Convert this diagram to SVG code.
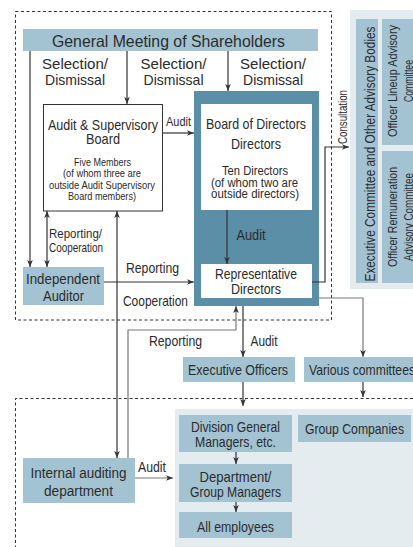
<svg xmlns="http://www.w3.org/2000/svg" width="413" height="547" viewBox="0 0 413 547">
  <style>
    text { font-family: "Liberation Sans", Arial, sans-serif; fill: #2b2b2b; }
    .blue { fill: #a3c3d2; }
    .panel { fill: #e4ecf0; }
    .teal { fill: #5b8fa8; }
    .white { fill: #ffffff; }
    .ln { fill: none; stroke: #333333; stroke-width: 1.2; }
    .gray { stroke: #777777; }
    .dash { fill: none; stroke: #333333; stroke-width: 1; stroke-dasharray: 3 2.5; }
  </style>
  <defs>
    <marker id="ah" viewBox="0 0 10 10" refX="10" refY="5" markerWidth="7" markerHeight="7" markerUnits="userSpaceOnUse" orient="auto-start-reverse">
      <path d="M0,1 L10,5 L0,9 L2.5,5 z" fill="#333333"/>
    </marker>
  </defs>

  <rect width="413" height="547" fill="#ffffff"/>

  <!-- governance frames -->
  <rect class="dash" x="15.5" y="11.5" width="316" height="308.5"/>
  <path class="dash" d="M413,398.5 H15.5 V547"/>

  <!-- advisory panel -->
  <g id="advisory-panel">
    <rect class="panel" x="350" y="10" width="63" height="279"/>
  </g>
  <g id="executive-committee">
    <rect class="blue" x="356" y="19" width="22" height="264"/>
    <text font-size="14" text-anchor="middle" textLength="255" lengthAdjust="spacingAndGlyphs" transform="translate(374.5,154) rotate(-90)">Executive Committee and Other Advisory Bodies</text>
  </g>
  <g id="officer-lineup">
    <rect class="blue" x="382" y="19" width="31" height="126"/>
    <text font-size="13" text-anchor="middle" textLength="112" lengthAdjust="spacingAndGlyphs" transform="translate(397,81) rotate(-90)">Officer Lineup Advisory</text>
    <text font-size="13" text-anchor="middle" textLength="42" lengthAdjust="spacingAndGlyphs" transform="translate(413,81) rotate(-90)">Committee</text>
  </g>
  <g id="officer-remuneration">
    <rect class="blue" x="382" y="151" width="31" height="132"/>
    <text font-size="13" text-anchor="middle" textLength="100" lengthAdjust="spacingAndGlyphs" transform="translate(397,217) rotate(-90)">Officer Remuneration</text>
    <text font-size="13" text-anchor="middle" textLength="88" lengthAdjust="spacingAndGlyphs" transform="translate(413,217) rotate(-90)">Advisory Committee</text>
  </g>

  <!-- bottom organisation panel -->
  <g id="organisation-panel">
    <rect class="panel" x="175" y="409" width="238" height="138"/>
  </g>

  <g id="general-meeting">
    <rect class="blue" x="23" y="29" width="295" height="22"/>
    <text font-size="16.5" x="168.5" y="46.5" text-anchor="middle" textLength="233" lengthAdjust="spacingAndGlyphs">General Meeting of Shareholders</text>
  </g>

  <g id="audit-board">
    <rect x="43.5" y="104.5" width="119" height="106.5" fill="#ffffff" stroke="#333333" stroke-width="1"/>
    <text font-size="15" x="103" y="130" text-anchor="middle" textLength="110" lengthAdjust="spacingAndGlyphs">Audit &amp; Supervisory</text>
    <text font-size="15" x="103" y="143.5" text-anchor="middle" textLength="34" lengthAdjust="spacingAndGlyphs">Board</text>
    <text font-size="11.5" x="102.5" y="165.5" text-anchor="middle" textLength="57" lengthAdjust="spacingAndGlyphs">Five Members</text>
    <text font-size="11.5" x="102" y="177" text-anchor="middle" textLength="78" lengthAdjust="spacingAndGlyphs">(of whom three are</text>
    <text font-size="11.5" x="102" y="189" text-anchor="middle" textLength="106" lengthAdjust="spacingAndGlyphs">outside Audit Supervisory</text>
    <text font-size="11.5" x="102" y="200" text-anchor="middle" textLength="68" lengthAdjust="spacingAndGlyphs">Board members)</text>
  </g>

  <g id="board-of-directors">
    <rect class="teal" x="194" y="91" width="125" height="215"/>
    <rect class="white" x="201" y="104" width="111" height="106"/>
    <text font-size="14.5" x="256" y="128.5" text-anchor="middle" textLength="100" lengthAdjust="spacingAndGlyphs">Board of Directors</text>
    <text font-size="14.5" x="256" y="148.5" text-anchor="middle" textLength="50" lengthAdjust="spacingAndGlyphs">Directors</text>
    <text font-size="12" x="255" y="175" text-anchor="middle" textLength="66" lengthAdjust="spacingAndGlyphs">Ten Directors</text>
    <text font-size="12" x="254.5" y="186.5" text-anchor="middle" textLength="87" lengthAdjust="spacingAndGlyphs">(of whom two are</text>
    <text font-size="12" x="255" y="197.5" text-anchor="middle" textLength="88" lengthAdjust="spacingAndGlyphs">outside directors)</text>
  </g>

  <g id="representative-directors">
    <rect class="white" x="201" y="264" width="111" height="34"/>
    <text font-size="14.5" x="256" y="278.5" text-anchor="middle" textLength="82" lengthAdjust="spacingAndGlyphs">Representative</text>
    <text font-size="14.5" x="256" y="293.5" text-anchor="middle" textLength="50" lengthAdjust="spacingAndGlyphs">Directors</text>
  </g>

  <g id="independent-auditor">
    <rect class="blue" x="23" y="267" width="81" height="38"/>
    <text font-size="15" x="63" y="283.5" text-anchor="middle" textLength="74" lengthAdjust="spacingAndGlyphs">Independent</text>
    <text font-size="15" x="63.5" y="300.5" text-anchor="middle" textLength="41" lengthAdjust="spacingAndGlyphs">Auditor</text>
  </g>

  <g id="executive-officers">
    <rect class="blue" x="183" y="357" width="112" height="25"/>
    <text font-size="15" x="238" y="375" text-anchor="middle" textLength="100" lengthAdjust="spacingAndGlyphs">Executive Officers</text>
  </g>

  <g id="various-committees">
    <rect class="blue" x="304" y="357" width="109" height="25"/>
    <text font-size="15" x="309" y="375" textLength="106" lengthAdjust="spacingAndGlyphs">Various committees</text>
  </g>

  <g id="internal-auditing">
    <rect class="blue" x="23" y="458" width="112" height="45"/>
    <text font-size="15.5" x="78.5" y="478" text-anchor="middle" textLength="96" lengthAdjust="spacingAndGlyphs">Internal auditing</text>
    <text font-size="15.5" x="78.5" y="496" text-anchor="middle" textLength="69" lengthAdjust="spacingAndGlyphs">department</text>
  </g>

  <g id="division-managers">
    <rect class="blue" x="179" y="415" width="113" height="37"/>
    <text font-size="15" x="235.5" y="431.5" text-anchor="middle" textLength="89" lengthAdjust="spacingAndGlyphs">Division General</text>
    <text font-size="15" x="235.5" y="446.5" text-anchor="middle" textLength="81" lengthAdjust="spacingAndGlyphs">Managers, etc.</text>
  </g>

  <g id="group-managers">
    <rect class="blue" x="179" y="464" width="113" height="38"/>
    <text font-size="15" x="235.5" y="481.5" text-anchor="middle" textLength="72" lengthAdjust="spacingAndGlyphs">Department/</text>
    <text font-size="15" x="235.5" y="496.5" text-anchor="middle" textLength="91" lengthAdjust="spacingAndGlyphs">Group Managers</text>
  </g>

  <g id="all-employees">
    <rect class="blue" x="179" y="512" width="113" height="26"/>
    <text font-size="15" x="235.5" y="531.5" text-anchor="middle" textLength="77" lengthAdjust="spacingAndGlyphs">All employees</text>
  </g>

  <g id="group-companies">
    <rect class="blue" x="298" y="415" width="113" height="27"/>
    <text font-size="15" x="354.5" y="434" text-anchor="middle" textLength="99" lengthAdjust="spacingAndGlyphs">Group Companies</text>
  </g>

  <!-- connectors -->
  <g id="connectors">
    <path class="ln" d="M30,51 V267" marker-end="url(#ah)"/>
    <path class="ln" d="M127,51 V104" marker-end="url(#ah)"/>
    <path class="ln" d="M228,51 V91" marker-end="url(#ah)"/>
    <path class="ln" d="M163,133 H194" marker-end="url(#ah)"/>
    <path class="ln" d="M47,211 V267" marker-start="url(#ah)" marker-end="url(#ah)"/>
    <path class="ln" d="M104,282 H194" marker-end="url(#ah)"/>
    <path class="ln" d="M117,211 V458" marker-start="url(#ah)" marker-end="url(#ah)"/>
    <path class="ln gray" d="M128,458 V330 H236 V306" marker-end="url(#ah)"/>
    <path class="ln" d="M227,210 V264" marker-end="url(#ah)"/>
    <path class="ln" d="M312,282 H325 V147 H349" marker-end="url(#ah)"/>
    <path class="ln" d="M243,306 V357" marker-end="url(#ah)"/>
    <path class="ln gray" d="M319,298 H363 V357" marker-end="url(#ah)"/>
    <path class="ln" d="M243,382 V406" marker-end="url(#ah)"/>
    <path class="ln" d="M363,382 V397" marker-end="url(#ah)"/>
    <path class="ln" d="M236,452 V464" marker-end="url(#ah)"/>
    <path class="ln" d="M236,502 V512" marker-end="url(#ah)"/>
    <path class="ln gray" d="M135,478 H173" marker-end="url(#ah)"/>

    <!-- connector labels -->
    <text font-size="15" x="75" y="69" text-anchor="middle" textLength="66" lengthAdjust="spacingAndGlyphs">Selection/</text>
    <text font-size="15" x="75" y="85" text-anchor="middle" textLength="60" lengthAdjust="spacingAndGlyphs">Dismissal</text>
    <text font-size="15" x="173.5" y="69" text-anchor="middle" textLength="66" lengthAdjust="spacingAndGlyphs">Selection/</text>
    <text font-size="15" x="173.5" y="85" text-anchor="middle" textLength="60" lengthAdjust="spacingAndGlyphs">Dismissal</text>
    <text font-size="15" x="273" y="69" text-anchor="middle" textLength="66" lengthAdjust="spacingAndGlyphs">Selection/</text>
    <text font-size="15" x="273" y="85" text-anchor="middle" textLength="60" lengthAdjust="spacingAndGlyphs">Dismissal</text>
    <text font-size="13.5" x="178.5" y="126" text-anchor="middle" textLength="25" lengthAdjust="spacingAndGlyphs">Audit</text>
    <text font-size="13" x="49" y="238" textLength="53" lengthAdjust="spacingAndGlyphs">Reporting/</text>
    <text font-size="13" x="49" y="251.5" textLength="54" lengthAdjust="spacingAndGlyphs">Cooperation</text>
    <text font-size="14.5" x="152.5" y="273" text-anchor="middle" textLength="53" lengthAdjust="spacingAndGlyphs">Reporting</text>
    <text font-size="14.5" x="155.5" y="306" text-anchor="middle" textLength="65" lengthAdjust="spacingAndGlyphs">Cooperation</text>
    <text font-size="14.5" x="251" y="240" text-anchor="middle" textLength="29" lengthAdjust="spacingAndGlyphs">Audit</text>
    <text font-size="13.5" text-anchor="middle" textLength="54" lengthAdjust="spacingAndGlyphs" transform="translate(347,117) rotate(-90)">Consultation</text>
    <text font-size="14.5" x="175.5" y="345.5" text-anchor="middle" textLength="53" lengthAdjust="spacingAndGlyphs">Reporting</text>
    <text font-size="14.5" x="264" y="345.5" text-anchor="middle" textLength="27" lengthAdjust="spacingAndGlyphs">Audit</text>
    <text font-size="14.5" x="152" y="471.5" text-anchor="middle" textLength="28" lengthAdjust="spacingAndGlyphs">Audit</text>
  </g>
</svg>
